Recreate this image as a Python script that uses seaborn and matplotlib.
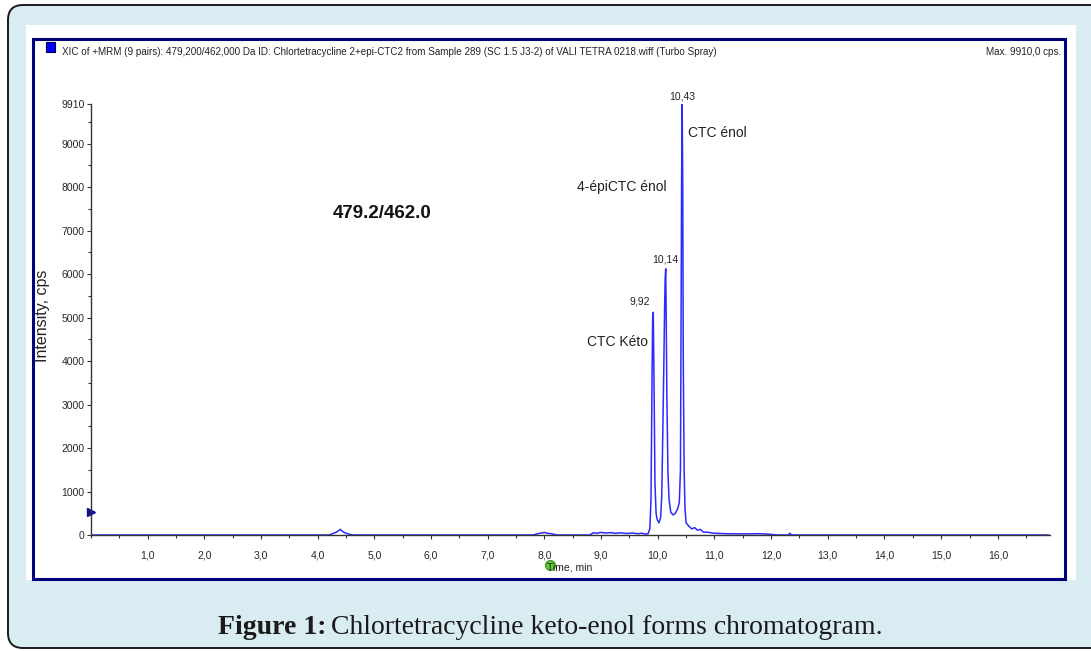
import matplotlib
matplotlib.use("Agg")
import matplotlib.pyplot as plt
import matplotlib.patches as mpatches
from matplotlib.transforms import Affine2D
from matplotlib.ticker import FixedLocator, MultipleLocator, FuncFormatter
import pandas as pd
import seaborn as sns

# Chromatogram trace (time in min, intensity in cps)
time_min = [0.00, 4.20, 4.28, 4.32, 4.36, 4.40, 4.44, 4.48, 4.55, 4.62,
            7.80, 7.88, 7.95, 8.00, 8.05, 8.12, 8.22,
            8.80, 8.86, 8.92, 9.00, 9.08, 9.16, 9.25, 9.35, 9.45, 9.55, 9.65,
            9.72, 9.78, 9.83, 9.86, 9.88, 9.90, 9.91, 9.92, 9.93, 9.94, 9.95,
            9.97, 9.99, 10.02, 10.05, 10.07, 10.09, 10.11, 10.12, 10.13, 10.14,
            10.15, 10.16, 10.18, 10.20, 10.23, 10.27, 10.31, 10.35, 10.38,
            10.40, 10.41, 10.42, 10.43, 10.44, 10.45, 10.465, 10.48, 10.50,
            10.55, 10.60, 10.65, 10.70, 10.75, 10.80, 10.90, 11.00, 11.20,
            11.50, 11.80, 11.95, 12.10, 12.30, 12.33, 12.36, 16.90]
intensity = [0, 0, 40, 60, 90, 130, 80, 50, 20, 0,
             0, 30, 45, 60, 40, 30, 0,
             0, 50, 40, 60, 45, 55, 40, 50, 35, 45, 30,
             40, 20, 30, 150, 800, 3800, 5000, 5120, 4000, 2600, 1200,
             500, 350, 280, 400, 900, 2500, 4200, 5200, 5900, 6120,
             4800, 3200, 1400, 800, 520, 460, 500, 600, 750,
             1500, 4600, 8100, 9910, 8100, 4000, 1500, 600, 280,
             200, 140, 170, 110, 130, 70, 60, 40, 30,
             25, 30, 20, 0, 0, 40, 0, 0]

peak_times = [9.92, 10.14, 10.43]
peak_heights = [5120, 6120, 9910]
peak_labels = ["9,92", "10,14", "10,43"]

compound_names = ["CTC Kéto", "4-épiCTC énol", "CTC énol"]
compound_x = [8.75, 8.58, 10.53]
compound_y = [4440, 8010, 9250]

x_ticks = list(range(1, 17))
y_ticks = [0, 1000, 2000, 3000, 4000, 5000, 6000, 7000, 8000, 9000, 9910]
threshold = 530

header = ("XIC of +MRM (9 pairs): 479,200/462,000 Da ID: Chlortetracycline 2+epi-CTC2 "
          "from Sample 289 (SC 1.5 J3-2) of VALI TETRA 0218.wiff (Turbo Spray)")
max_text = "Max. 9910,0 cps."
transition = "479.2/462.0"

df = pd.DataFrame({"time": time_min, "intensity": intensity})

sns.set_style("ticks")
plt.rcParams['font.family'] = ['Liberation Sans', 'DejaVu Sans']

W, H = 1091, 651
fig = plt.figure(figsize=(W / 100, H / 100), dpi=100)
fig.patch.set_facecolor("white")
px = Affine2D().scale(1 / W, 1 / H) + fig.transFigure

# card, white panel and navy frame (pixel coords, y from bottom)
card = mpatches.FancyBboxPatch((8, H - 648), 1110, 643,
                               boxstyle="round,pad=0,rounding_size=15",
                               transform=px, facecolor="#d8ecf1",
                               edgecolor="#1a1a1a", lw=1.4, zorder=-3)
panel = mpatches.Rectangle((26, H - 580), 1050, 555, transform=px,
                           facecolor="white", edgecolor="none", zorder=-2)
frame = mpatches.Rectangle((33, H - 579), 1032, 540, transform=px,
                           facecolor="none", edgecolor="#00007a", lw=2.2, zorder=-1)
square = mpatches.Rectangle((46, H - 52), 9, 10, transform=px,
                            facecolor="#0000ff", edgecolor="#000040", lw=0.8, zorder=-1)
for p in (card, panel, frame, square):
    fig.add_artist(p)

ax = fig.add_axes([91 / W, (H - 535) / H, (1050 - 91) / W, (535 - 104) / H])
ax.set_facecolor("none")
sns.lineplot(data=df, x="time", y="intensity", ax=ax, color="#2b2bff",
             lw=1.1, estimator=None, sort=False)

ax.set_xlim(0, 16.92)
ax.set_ylim(0, 9910)
ax.xaxis.set_major_locator(FixedLocator(x_ticks))
ax.xaxis.set_minor_locator(MultipleLocator(0.5))
ax.xaxis.set_major_formatter(FuncFormatter(lambda v, p: f"{v:.1f}".replace(".", ",")))
ax.yaxis.set_major_locator(FixedLocator(y_ticks))
ax.yaxis.set_minor_locator(MultipleLocator(500))
ax.yaxis.set_major_formatter(FuncFormatter(lambda v, p: f"{v:.0f}"))
ax.tick_params(axis="both", which="both", direction="out", color="#333333",
               labelsize=7.5, width=0.8)
ax.tick_params(axis="x", which="major", length=3, pad=8)
ax.tick_params(axis="x", which="minor", length=2)
ax.tick_params(axis="y", which="major", length=3, pad=1.5)
ax.tick_params(axis="y", which="minor", length=2)
for s in ("top", "right"):
    ax.spines[s].set_visible(False)
for s in ("left", "bottom"):
    ax.spines[s].set_color("#333333")
    ax.spines[s].set_linewidth(1.0)
ax.set_xlabel("")
ax.set_ylabel("")

# threshold marker on the y axis
ax.plot([0], [threshold], marker=">", color="#1010a0", ms=6, clip_on=False)

# peak apex labels
offsets = [(-10, 4), (0, 3), (0, 2)]
for t, h, lab, off in zip(peak_times, peak_heights, peak_labels, offsets):
    ax.annotate(lab, (t, h), xytext=off, textcoords="offset points",
                ha="center", va="bottom", fontsize=7.5, color="#222222",
                annotation_clip=False)

for name, x, y in zip(compound_names, compound_x, compound_y):
    ax.text(x, y, name, ha="left", va="center", fontsize=10, color="#222222")

ax.text(4.27, 7390, transition, ha="left", va="center", fontsize=13.5,
        fontweight="bold", color="#111111")

# header / axis titles
fig.text(62 / W, 1 - 52 / H, header, ha="left", va="center", fontsize=7.1, color="#222222")
fig.text(1061 / W, 1 - 52 / H, max_text, ha="right", va="center", fontsize=7.1, color="#222222")
fig.text(42 / W, 1 - 316 / H, "Intensity, cps", rotation=90, ha="center", va="center",
         fontsize=11.5, color="#222222")
fig.text(547 / W, 1 - 567 / H, "Time, min", ha="left", va="center", fontsize=7.5, color="#222222")
fig.add_artist(plt.Line2D([550 / W], [1 - 565 / H], marker="o", ms=7,
                          color="#66cc33", mec="#449922", transform=fig.transFigure))

# caption
fig.text(326 / W, 1 - 628 / H, "Figure 1:", ha="right", va="center", fontsize=20,
         fontweight="bold", family="Liberation Serif", color="#1a1a1a")
fig.text(331 / W, 1 - 628 / H, "Chlortetracycline keto-enol forms chromatogram.",
         ha="left", va="center", fontsize=20, family="Liberation Serif", color="#1a1a1a")

fig.savefig("out.png", dpi=100)
